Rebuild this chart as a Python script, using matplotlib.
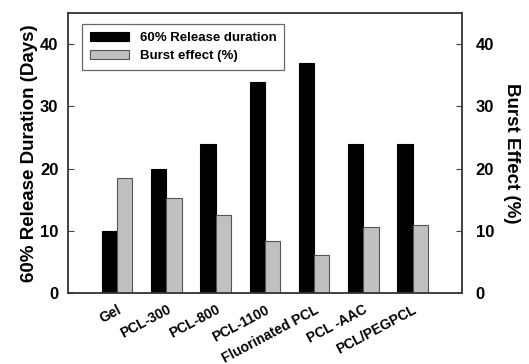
import numpy as np
import matplotlib.pyplot as plt

plt.rcParams['font.family'] = ['Liberation Sans', 'DejaVu Sans']
plt.rcParams['font.weight'] = 'bold'

categories = ['Gel', 'PCL-300', 'PCL-800', 'PCL-1100', 'Fluorinated PCL', 'PCL -AAC', 'PCL/PEGPCL']
release_days = [10, 20, 24, 34, 37, 24, 24]
burst_pct = [18.5, 15.2, 12.6, 8.4, 6.1, 10.6, 11.0]

fig = plt.figure(figsize=(5.29, 3.64), dpi=100)
ax = fig.add_axes([0.1285, 0.195, 0.7445, 0.769])

x = np.arange(len(categories))
w = 0.31
ax.bar(x - w / 2, release_days, w, color='black', edgecolor='black', linewidth=0.8,
       label='60% Release duration', zorder=2)
ax.bar(x + w / 2, burst_pct, w, color='#c0c0c0', edgecolor='#555555', linewidth=0.8,
       label='Burst effect (%)', zorder=2)

ax.set_xlim(-1, 7)
ax.set_ylim(0, 45)
ax.set_yticks([0, 10, 20, 30, 40])
ax.set_xticks(x)
ax.set_xticklabels(categories, rotation=28, ha='right', rotation_mode='anchor',
                   fontsize=10, fontweight='bold')
ax.tick_params(axis='x', length=0, pad=7)
ax.tick_params(axis='y', direction='in', length=4, labelsize=12, color='#444444', pad=7)
for lab in ax.get_yticklabels():
    lab.set_fontweight('bold')
ax.set_ylabel('60% Release Duration (Days)', fontsize=13.5, fontweight='bold', labelpad=1)

for s in ax.spines.values():
    s.set_color('#333333')
    s.set_linewidth(1.3)

ax2 = ax.twinx()
ax2.set_ylim(0, 45)
ax2.set_yticks([0, 10, 20, 30, 40])
ax2.tick_params(axis='y', direction='in', length=4, labelsize=12, color='#444444', pad=10)
for lab in ax2.get_yticklabels():
    lab.set_fontweight('bold')
ax2.set_ylabel('Burst Effect (%)', fontsize=13.5, fontweight='bold', rotation=270, labelpad=19)
for s in ax2.spines.values():
    s.set_visible(False)

leg = ax.legend(loc='upper left', bbox_to_anchor=(0.035, 0.96), fontsize=9.5,
                frameon=True, fancybox=False, edgecolor='#444444', borderaxespad=0,
                handlelength=3.0, handleheight=0.6, handletextpad=0.8,
                borderpad=0.6, labelspacing=0.45)
leg.get_frame().set_linewidth(0.9)
for t in leg.get_texts():
    t.set_fontweight('bold')

fig.savefig('out.png', dpi=100)
